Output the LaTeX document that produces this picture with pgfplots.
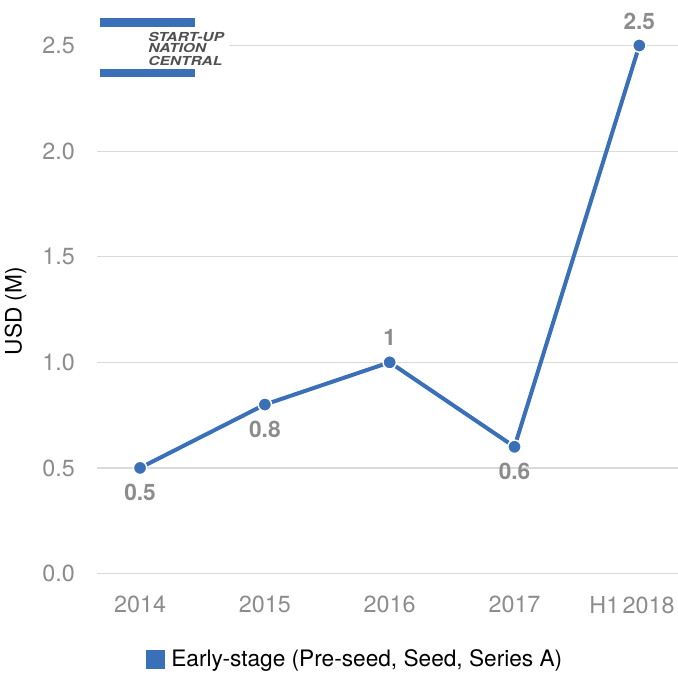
\documentclass[border=0pt]{standalone}
\usepackage{fontspec}
\setmainfont{TeX Gyre Heros}
\usepackage{pgfplots}
\pgfplotsset{compat=1.18}

\definecolor{snblue}{HTML}{3A70B8}
\definecolor{tickgrey}{HTML}{8C8C8C}
\definecolor{gridgrey}{HTML}{DADADA}
\definecolor{logogrey}{HTML}{505050}

\newcommand{\tickfont}{\fontsize{17.5}{20}\selectfont}
\newcommand{\chartfont}{\fontsize{17}{20}\selectfont}

\begin{document}
\begin{tikzpicture}
% page frame
\path[use as bounding box] (0pt,0pt) rectangle (508.5pt,-506.25pt);

\begin{axis}[
  at={(72.75pt,-430.125pt)}, anchor=south west,
  scale only axis, width=435.75pt, height=396pt,
  xmin=-0.345, xmax=4.31, ymin=0, ymax=2.5,
  clip=false,
  axis line style={draw=none},
  major tick length=0pt,
  xtick={0,1,2,3,4},
  xticklabels={2014,2015,2016,2017,{\hspace{-11pt}H1\hspace{2.5pt}2018}},
  ytick={0,0.5,1,1.5,2,2.5},
  ymajorgrids,
  grid style={gridgrey, line width=0.9pt},
  /pgf/number format/assume math mode=true,
  yticklabel={\pgfmathprintnumber[fixed,fixed zerofill,precision=1]{\tick}},
  tick label style={font=\tickfont, text=tickgrey, inner sep=0pt},
  yticklabel style={anchor=east, xshift=-16.5pt},
  xticklabel style={anchor=north, yshift=-16.9pt},
  ylabel={USD (M)},
  ylabel style={at={(axis description cs:-0.1403,0.497)}, anchor=center, font=\chartfont, text=black, inner sep=0pt},
  legend style={at={(axis description cs:0.0843,-0.162)}, anchor=west,
    draw=none, fill=none, inner sep=0pt, outer sep=0pt,
    font=\chartfont, text=black,
    nodes={inner sep=0pt}},
  legend image code/.code={
    \fill[snblue] (0pt,-5.625pt) rectangle (11.25pt,5.625pt);
    \path[draw=none] (0pt,0pt) -- (17.5pt,0pt);},
]
\addplot[snblue, line width=3pt,
  mark=*, mark size=5pt,
  mark options={fill=snblue, draw=white, line width=1.1pt},
  nodes near coords, point meta=explicit symbolic,
  visualization depends on={value \thisrow{dy} \as \labdy},
  every node near coord/.append style={anchor=center, yshift=\labdy pt,
    font=\chartfont\bfseries, text=tickgrey, inner sep=0pt}]
  table[x=x, y=y, meta=lab] {
  x y   lab dy
  0 0.5 0.5 -18.4
  1 0.8 0.8 -18.4
  2 1   1   18.4
  3 0.6 0.6 -18.4
  4 2.5 2.5 18.4
};
\addlegendentry{Early-stage (Pre-seed, Seed, Series A)}
\end{axis}

% logo
\fill[white] (72pt,-9pt) rectangle (172pt,-61.5pt);
\fill[snblue] (75pt,-13.75pt) rectangle (146.25pt,-20pt);
\fill[snblue] (75pt,-51.75pt) rectangle (146.25pt,-58pt);
\begin{scope}[every node/.style={anchor=base west, inner sep=0pt, xscale=1.25,
    font=\fontsize{9.3}{11}\selectfont\bfseries\itshape, text=logogrey}]
  \node at (111pt,-30.75pt) {START-UP};
  \node at (111pt,-39.6pt) {NATION};
  \node at (111pt,-48.75pt) {CENTRAL};
\end{scope}
\end{tikzpicture}
\end{document}
